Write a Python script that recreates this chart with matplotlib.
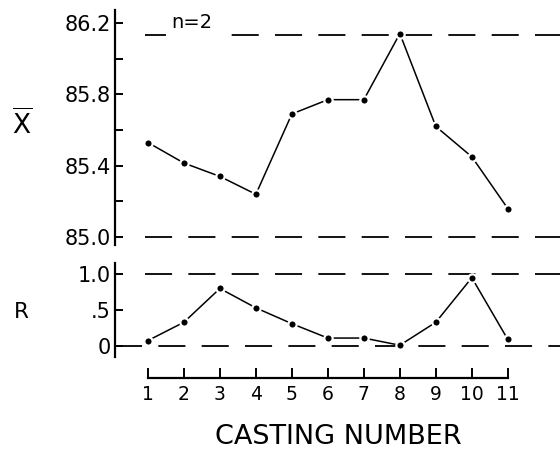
import matplotlib
matplotlib.use('Agg')
import matplotlib.pyplot as plt
from matplotlib.ticker import FixedLocator

casting = [1, 2, 3, 4, 5, 6, 7, 8, 9, 10, 11]
xbar = [85.53, 85.415, 85.34, 85.24, 85.69, 85.77, 85.77, 86.14, 85.62, 85.45, 85.16]
rng = [0.075, 0.33, 0.80, 0.53, 0.31, 0.11, 0.11, 0.01, 0.33, 0.95, 0.09]

xbar_ucl, xbar_lcl = 86.13, 85.0
r_ucl, r_lcl = 1.0, 0.0

xbar_ticks = [85.0, 85.4, 85.8, 86.2]
xbar_ticklabels = ['85.0', '85.4', '85.8', '86.2']
xbar_minor = [85.2, 85.6, 86.0]
r_ticks = [0.0, 0.5, 1.0]
r_ticklabels = ['0', '.5', '1.0']

plt.rcParams['font.family'] = ['DejaVu Sans']

fig = plt.figure(figsize=(5.6, 4.49), dpi=100)
ax1 = fig.add_axes([0.205, 0.454, 0.795, 0.524])
ax2 = fig.add_axes([0.205, 0.205, 0.795, 0.209])

dash = (0, (15, 9))
mk = dict(marker='o', ms=6, mfc='black', mec='white', mew=1.6, color='black', lw=1.1)

for ax in (ax1, ax2):
    ax.set_xlim(0.08, 12.45)
    for s in ('top', 'right'):
        ax.spines[s].set_visible(False)
    ax.spines['left'].set_linewidth(1.6)
    ax.tick_params(axis='y', direction='in', length=6, width=1.4, labelsize=15, pad=3)
    ax.tick_params(axis='y', which='minor', direction='in', length=6, width=1.4)

# X-bar chart
ax1.set_ylim(84.955, 86.273)
ax1.axhline(xbar_ucl, xmin=0.067, color='black', lw=1.3, ls=dash)
ax1.axhline(xbar_lcl, xmin=0.067, color='black', lw=1.3, ls=dash)
ax1.plot(casting, xbar, **mk)
ax1.yaxis.set_major_locator(FixedLocator(xbar_ticks))
ax1.yaxis.set_minor_locator(FixedLocator(xbar_minor))
ax1.set_yticklabels(xbar_ticklabels)
ax1.spines['bottom'].set_visible(False)
ax1.set_xticks([])
ax1.text(2.22, xbar_ucl + 0.018, 'n=2', fontsize=14, ha='center', va='bottom', zorder=4,
         bbox=dict(facecolor='white', edgecolor='none', pad=4))

# R chart
ax2.set_ylim(-0.153, 1.153)
ax2.axhline(r_ucl, xmin=0.067, color='black', lw=1.3, ls=dash)
ax2.axhline(r_lcl, color='black', lw=1.3, ls=dash)
ax2.plot(casting, rng, **mk)
ax2.yaxis.set_major_locator(FixedLocator(r_ticks))
ax2.set_yticklabels(r_ticklabels)
ax2.spines['bottom'].set_position(('outward', 15))
ax2.spines['bottom'].set_bounds(1, 11)
ax2.spines['bottom'].set_linewidth(1.6)
ax2.set_xticks(casting)
ax2.set_xticklabels([str(c) for c in casting])
ax2.tick_params(axis='x', direction='in', length=7, width=1.4, labelsize=13.5, pad=5)

fig.text(0.039, 0.722, r'$\mathsf{\overline{X}}$', fontsize=19, ha='center', va='center')
fig.text(0.039, 0.305, 'R', fontsize=15.5, ha='center', va='center')
fig.text(0.605, 0.027, 'CASTING NUMBER', fontsize=19.5, ha='center', va='center')

fig.savefig('out.png', dpi=100)
